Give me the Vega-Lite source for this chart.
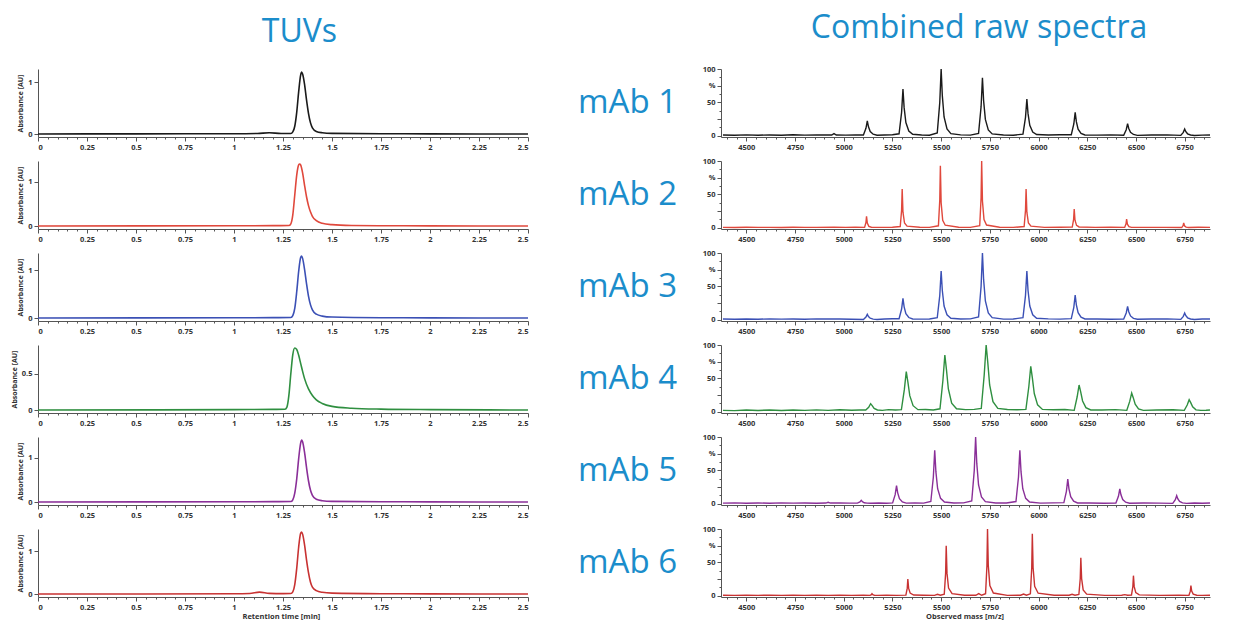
{
"$schema": "https://vega.github.io/schema/vega-lite/v6.json",
"padding": {"left": 10, "top": 12, "right": 5, "bottom": 4},
"background": "white",
"config": {
  "view": {"stroke": null},
  "axis": {"grid": false, "domainColor": "#555", "tickColor": "#555", "labelFont": "Open Sans", "labelFontSize": 7.5, "labelFontWeight": "bold", "labelColor": "#333", "titleFont": "Open Sans", "titleFontSize": 7, "titleFontWeight": "bold", "titleColor": "#333", "labelPadding": 2, "domainWidth": 1},
  "title": {"font": "Open Sans", "color": "#1b8dcb", "fontWeight": "normal", "fontSize": 32}
},
"datasets": {
  "tuv": [
    {"m":"mAb 1","t":0,"a":0},{"m":"mAb 1","t":0.5,"a":0.003},{"m":"mAb 1","t":1,"a":0.005},{"m":"mAb 1","t":1.12,"a":0.01},{"m":"mAb 1","t":1.18,"a":0.025},{"m":"mAb 1","t":1.24,"a":0.01},{"m":"mAb 1","t":1.29,"a":0.01},{"m":"mAb 1","t":1.3,"a":0.04},{"m":"mAb 1","t":1.31,"a":0.15},{"m":"mAb 1","t":1.32,"a":0.42},{"m":"mAb 1","t":1.33,"a":0.82},{"m":"mAb 1","t":1.34,"a":1.14},{"m":"mAb 1","t":1.345,"a":1.2},{"m":"mAb 1","t":1.35,"a":1.16},{"m":"mAb 1","t":1.36,"a":0.96},{"m":"mAb 1","t":1.37,"a":0.66},{"m":"mAb 1","t":1.38,"a":0.4},{"m":"mAb 1","t":1.39,"a":0.22},{"m":"mAb 1","t":1.4,"a":0.12},{"m":"mAb 1","t":1.42,"a":0.05},{"m":"mAb 1","t":1.45,"a":0.025},{"m":"mAb 1","t":1.5,"a":0.012},{"m":"mAb 1","t":1.75,"a":0.005},{"m":"mAb 1","t":2,"a":0.003},{"m":"mAb 1","t":2.5,"a":0},
    {"m":"mAb 2","t":0,"a":0},{"m":"mAb 2","t":1,"a":0.005},{"m":"mAb 2","t":1.2,"a":0.008},{"m":"mAb 2","t":1.28,"a":0.01},{"m":"mAb 2","t":1.29,"a":0.05},{"m":"mAb 2","t":1.3,"a":0.25},{"m":"mAb 2","t":1.31,"a":0.7},{"m":"mAb 2","t":1.32,"a":1.15},{"m":"mAb 2","t":1.33,"a":1.38},{"m":"mAb 2","t":1.335,"a":1.4},{"m":"mAb 2","t":1.34,"a":1.38},{"m":"mAb 2","t":1.35,"a":1.2},{"m":"mAb 2","t":1.36,"a":0.92},{"m":"mAb 2","t":1.37,"a":0.66},{"m":"mAb 2","t":1.38,"a":0.46},{"m":"mAb 2","t":1.39,"a":0.32},{"m":"mAb 2","t":1.4,"a":0.22},{"m":"mAb 2","t":1.42,"a":0.12},{"m":"mAb 2","t":1.45,"a":0.06},{"m":"mAb 2","t":1.5,"a":0.03},{"m":"mAb 2","t":1.6,"a":0.012},{"m":"mAb 2","t":1.75,"a":0.006},{"m":"mAb 2","t":2,"a":0.003},{"m":"mAb 2","t":2.5,"a":0},
    {"m":"mAb 3","t":0,"a":0},{"m":"mAb 3","t":1,"a":0.005},{"m":"mAb 3","t":1.2,"a":0.008},{"m":"mAb 3","t":1.29,"a":0.01},{"m":"mAb 3","t":1.3,"a":0.05},{"m":"mAb 3","t":1.31,"a":0.2},{"m":"mAb 3","t":1.32,"a":0.55},{"m":"mAb 3","t":1.33,"a":0.98},{"m":"mAb 3","t":1.34,"a":1.27},{"m":"mAb 3","t":1.345,"a":1.3},{"m":"mAb 3","t":1.35,"a":1.25},{"m":"mAb 3","t":1.36,"a":1.02},{"m":"mAb 3","t":1.37,"a":0.72},{"m":"mAb 3","t":1.38,"a":0.46},{"m":"mAb 3","t":1.39,"a":0.28},{"m":"mAb 3","t":1.4,"a":0.17},{"m":"mAb 3","t":1.42,"a":0.08},{"m":"mAb 3","t":1.45,"a":0.04},{"m":"mAb 3","t":1.5,"a":0.02},{"m":"mAb 3","t":1.75,"a":0.006},{"m":"mAb 3","t":2,"a":0.003},{"m":"mAb 3","t":2.5,"a":0},
    {"m":"mAb 4","t":0,"a":0},{"m":"mAb 4","t":1,"a":0.005},{"m":"mAb 4","t":1.2,"a":0.008},{"m":"mAb 4","t":1.26,"a":0.01},{"m":"mAb 4","t":1.27,"a":0.04},{"m":"mAb 4","t":1.28,"a":0.2},{"m":"mAb 4","t":1.29,"a":0.5},{"m":"mAb 4","t":1.3,"a":0.76},{"m":"mAb 4","t":1.31,"a":0.85},{"m":"mAb 4","t":1.32,"a":0.83},{"m":"mAb 4","t":1.33,"a":0.75},{"m":"mAb 4","t":1.34,"a":0.64},{"m":"mAb 4","t":1.35,"a":0.53},{"m":"mAb 4","t":1.36,"a":0.43},{"m":"mAb 4","t":1.38,"a":0.29},{"m":"mAb 4","t":1.4,"a":0.2},{"m":"mAb 4","t":1.42,"a":0.14},{"m":"mAb 4","t":1.45,"a":0.09},{"m":"mAb 4","t":1.5,"a":0.05},{"m":"mAb 4","t":1.6,"a":0.025},{"m":"mAb 4","t":1.75,"a":0.012},{"m":"mAb 4","t":2,"a":0.005},{"m":"mAb 4","t":2.5,"a":0},
    {"m":"mAb 5","t":0,"a":0},{"m":"mAb 5","t":1,"a":0.005},{"m":"mAb 5","t":1.2,"a":0.008},{"m":"mAb 5","t":1.29,"a":0.01},{"m":"mAb 5","t":1.3,"a":0.05},{"m":"mAb 5","t":1.31,"a":0.2},{"m":"mAb 5","t":1.32,"a":0.52},{"m":"mAb 5","t":1.33,"a":0.98},{"m":"mAb 5","t":1.34,"a":1.33},{"m":"mAb 5","t":1.345,"a":1.4},{"m":"mAb 5","t":1.35,"a":1.36},{"m":"mAb 5","t":1.36,"a":1.12},{"m":"mAb 5","t":1.37,"a":0.78},{"m":"mAb 5","t":1.38,"a":0.48},{"m":"mAb 5","t":1.39,"a":0.27},{"m":"mAb 5","t":1.4,"a":0.15},{"m":"mAb 5","t":1.42,"a":0.06},{"m":"mAb 5","t":1.45,"a":0.03},{"m":"mAb 5","t":1.5,"a":0.015},{"m":"mAb 5","t":1.75,"a":0.006},{"m":"mAb 5","t":2,"a":0.003},{"m":"mAb 5","t":2.5,"a":0},
    {"m":"mAb 6","t":0,"a":0},{"m":"mAb 6","t":1,"a":0.005},{"m":"mAb 6","t":1.08,"a":0.01},{"m":"mAb 6","t":1.13,"a":0.045},{"m":"mAb 6","t":1.18,"a":0.015},{"m":"mAb 6","t":1.25,"a":0.008},{"m":"mAb 6","t":1.29,"a":0.01},{"m":"mAb 6","t":1.3,"a":0.05},{"m":"mAb 6","t":1.31,"a":0.22},{"m":"mAb 6","t":1.32,"a":0.6},{"m":"mAb 6","t":1.33,"a":1.1},{"m":"mAb 6","t":1.34,"a":1.42},{"m":"mAb 6","t":1.345,"a":1.45},{"m":"mAb 6","t":1.35,"a":1.4},{"m":"mAb 6","t":1.36,"a":1.15},{"m":"mAb 6","t":1.37,"a":0.8},{"m":"mAb 6","t":1.38,"a":0.5},{"m":"mAb 6","t":1.39,"a":0.28},{"m":"mAb 6","t":1.4,"a":0.16},{"m":"mAb 6","t":1.42,"a":0.08},{"m":"mAb 6","t":1.45,"a":0.04},{"m":"mAb 6","t":1.5,"a":0.02},{"m":"mAb 6","t":1.75,"a":0.006},{"m":"mAb 6","t":2,"a":0.003},{"m":"mAb 6","t":2.5,"a":0}
  ],
  "ms": [
    {"m":"mAb 1","mz":4380,"i":1},{"m":"mAb 1","mz":4440,"i":0.6},{"m":"mAb 1","mz":4500,"i":1.2},{"m":"mAb 1","mz":4560,"i":0.7},{"m":"mAb 1","mz":4620,"i":1.1},{"m":"mAb 1","mz":4680,"i":0.6},{"m":"mAb 1","mz":4740,"i":1.3},{"m":"mAb 1","mz":4800,"i":0.8},{"m":"mAb 1","mz":4860,"i":1},{"m":"mAb 1","mz":4910,"i":0.9},{"m":"mAb 1","mz":4938,"i":1},{"m":"mAb 1","mz":4950,"i":3},{"m":"mAb 1","mz":4962,"i":1},{"m":"mAb 1","mz":5010,"i":0.8},{"m":"mAb 1","mz":5060,"i":1.2},
    {"m":"mAb 1","mz":5101,"i":0.9},{"m":"mAb 1","mz":5114,"i":11},{"m":"mAb 1","mz":5121,"i":22},{"m":"mAb 1","mz":5127,"i":13.2},{"m":"mAb 1","mz":5136,"i":6.2},{"m":"mAb 1","mz":5151,"i":2.2},{"m":"mAb 1","mz":5171,"i":0.7},
    {"m":"mAb 1","mz":5210,"i":0.9},{"m":"mAb 1","mz":5250,"i":1.3},
    {"m":"mAb 1","mz":5284,"i":2.8},{"m":"mAb 1","mz":5297,"i":35},{"m":"mAb 1","mz":5304,"i":70},{"m":"mAb 1","mz":5310,"i":42},{"m":"mAb 1","mz":5319,"i":19.6},{"m":"mAb 1","mz":5334,"i":7},{"m":"mAb 1","mz":5354,"i":2.1},
    {"m":"mAb 1","mz":5400,"i":1},{"m":"mAb 1","mz":5440,"i":0.7},
    {"m":"mAb 1","mz":5480,"i":4},{"m":"mAb 1","mz":5493,"i":50},{"m":"mAb 1","mz":5500,"i":100},{"m":"mAb 1","mz":5506,"i":60},{"m":"mAb 1","mz":5515,"i":28},{"m":"mAb 1","mz":5530,"i":10},{"m":"mAb 1","mz":5550,"i":3},
    {"m":"mAb 1","mz":5600,"i":1.2},{"m":"mAb 1","mz":5650,"i":0.8},
    {"m":"mAb 1","mz":5692,"i":3.5},{"m":"mAb 1","mz":5705,"i":43.5},{"m":"mAb 1","mz":5712,"i":87},{"m":"mAb 1","mz":5718,"i":52.2},{"m":"mAb 1","mz":5727,"i":24.4},{"m":"mAb 1","mz":5742,"i":8.7},{"m":"mAb 1","mz":5762,"i":2.6},
    {"m":"mAb 1","mz":5820,"i":1.1},{"m":"mAb 1","mz":5870,"i":0.7},
    {"m":"mAb 1","mz":5920,"i":2.2},{"m":"mAb 1","mz":5933,"i":27.5},{"m":"mAb 1","mz":5940,"i":55},{"m":"mAb 1","mz":5946,"i":33},{"m":"mAb 1","mz":5955,"i":15.4},{"m":"mAb 1","mz":5970,"i":5.5},{"m":"mAb 1","mz":5990,"i":1.7},
    {"m":"mAb 1","mz":6050,"i":1},{"m":"mAb 1","mz":6110,"i":1.3},
    {"m":"mAb 1","mz":6168,"i":1.4},{"m":"mAb 1","mz":6181,"i":17.5},{"m":"mAb 1","mz":6188,"i":35},{"m":"mAb 1","mz":6194,"i":21},{"m":"mAb 1","mz":6203,"i":9.8},{"m":"mAb 1","mz":6218,"i":3.5},{"m":"mAb 1","mz":6238,"i":1.1},
    {"m":"mAb 1","mz":6300,"i":0.8},{"m":"mAb 1","mz":6370,"i":1.2},
    {"m":"mAb 1","mz":6437,"i":0.7},{"m":"mAb 1","mz":6450,"i":9},{"m":"mAb 1","mz":6457,"i":18},{"m":"mAb 1","mz":6463,"i":10.8},{"m":"mAb 1","mz":6472,"i":5},{"m":"mAb 1","mz":6487,"i":1.8},{"m":"mAb 1","mz":6507,"i":0.5},
    {"m":"mAb 1","mz":6580,"i":0.9},{"m":"mAb 1","mz":6660,"i":1.2},
    {"m":"mAb 1","mz":6730,"i":0.4},{"m":"mAb 1","mz":6743,"i":5},{"m":"mAb 1","mz":6750,"i":10},{"m":"mAb 1","mz":6756,"i":6},{"m":"mAb 1","mz":6765,"i":2.8},{"m":"mAb 1","mz":6780,"i":1},{"m":"mAb 1","mz":6800,"i":0.3},
    {"m":"mAb 1","mz":6840,"i":0.8},{"m":"mAb 1","mz":6880,"i":1.1},

    {"m":"mAb 2","mz":4380,"i":0.5},{"m":"mAb 2","mz":4440,"i":0.3},{"m":"mAb 2","mz":4500,"i":0.6},{"m":"mAb 2","mz":4560,"i":0.4},{"m":"mAb 2","mz":4620,"i":0.5},{"m":"mAb 2","mz":4680,"i":0.3},{"m":"mAb 2","mz":4740,"i":0.6},{"m":"mAb 2","mz":4800,"i":0.4},{"m":"mAb 2","mz":4860,"i":0.5},{"m":"mAb 2","mz":4950,"i":0.8},{"m":"mAb 2","mz":5010,"i":0.4},{"m":"mAb 2","mz":5060,"i":0.6},
    {"m":"mAb 2","mz":5107,"i":0.5},{"m":"mAb 2","mz":5114,"i":7.7},{"m":"mAb 2","mz":5117,"i":17},{"m":"mAb 2","mz":5121,"i":6.8},{"m":"mAb 2","mz":5129,"i":2},{"m":"mAb 2","mz":5142,"i":0.7},
    {"m":"mAb 2","mz":5200,"i":0.5},{"m":"mAb 2","mz":5250,"i":0.7},
    {"m":"mAb 2","mz":5290,"i":1.7},{"m":"mAb 2","mz":5297,"i":26.1},{"m":"mAb 2","mz":5300,"i":58},{"m":"mAb 2","mz":5304,"i":23.2},{"m":"mAb 2","mz":5312,"i":7},{"m":"mAb 2","mz":5325,"i":2.3},
    {"m":"mAb 2","mz":5390,"i":0.6},{"m":"mAb 2","mz":5440,"i":0.4},
    {"m":"mAb 2","mz":5486,"i":2.8},{"m":"mAb 2","mz":5493,"i":41.9},{"m":"mAb 2","mz":5496,"i":93},{"m":"mAb 2","mz":5500,"i":37.2},{"m":"mAb 2","mz":5508,"i":11.2},{"m":"mAb 2","mz":5521,"i":3.7},
    {"m":"mAb 2","mz":5590,"i":0.7},{"m":"mAb 2","mz":5650,"i":0.5},
    {"m":"mAb 2","mz":5698,"i":3},{"m":"mAb 2","mz":5705,"i":45},{"m":"mAb 2","mz":5708,"i":100},{"m":"mAb 2","mz":5712,"i":40},{"m":"mAb 2","mz":5720,"i":12},{"m":"mAb 2","mz":5733,"i":4},
    {"m":"mAb 2","mz":5800,"i":0.6},{"m":"mAb 2","mz":5870,"i":0.4},
    {"m":"mAb 2","mz":5926,"i":1.7},{"m":"mAb 2","mz":5933,"i":26.1},{"m":"mAb 2","mz":5936,"i":58},{"m":"mAb 2","mz":5940,"i":23.2},{"m":"mAb 2","mz":5948,"i":7},{"m":"mAb 2","mz":5961,"i":2.3},
    {"m":"mAb 2","mz":6030,"i":0.5},{"m":"mAb 2","mz":6110,"i":0.7},
    {"m":"mAb 2","mz":6173,"i":0.8},{"m":"mAb 2","mz":6180,"i":12.6},{"m":"mAb 2","mz":6183,"i":28},{"m":"mAb 2","mz":6187,"i":11.2},{"m":"mAb 2","mz":6195,"i":3.4},{"m":"mAb 2","mz":6208,"i":1.1},
    {"m":"mAb 2","mz":6290,"i":0.4},{"m":"mAb 2","mz":6370,"i":0.6},
    {"m":"mAb 2","mz":6442,"i":0.4},{"m":"mAb 2","mz":6449,"i":5.9},{"m":"mAb 2","mz":6452,"i":13},{"m":"mAb 2","mz":6456,"i":5.2},{"m":"mAb 2","mz":6464,"i":1.6},{"m":"mAb 2","mz":6477,"i":0.5},
    {"m":"mAb 2","mz":6560,"i":0.5},{"m":"mAb 2","mz":6650,"i":0.4},
    {"m":"mAb 2","mz":6735,"i":0.2},{"m":"mAb 2","mz":6742,"i":3.2},{"m":"mAb 2","mz":6745,"i":7},{"m":"mAb 2","mz":6749,"i":2.8},{"m":"mAb 2","mz":6757,"i":0.8},{"m":"mAb 2","mz":6770,"i":0.3},
    {"m":"mAb 2","mz":6820,"i":0.6},{"m":"mAb 2","mz":6880,"i":0.4},

    {"m":"mAb 3","mz":4380,"i":1},{"m":"mAb 3","mz":4440,"i":0.7},{"m":"mAb 3","mz":4500,"i":1.1},{"m":"mAb 3","mz":4560,"i":0.6},{"m":"mAb 3","mz":4620,"i":1.2},{"m":"mAb 3","mz":4680,"i":0.8},{"m":"mAb 3","mz":4740,"i":1},{"m":"mAb 3","mz":4800,"i":0.6},{"m":"mAb 3","mz":4860,"i":1.2},{"m":"mAb 3","mz":4920,"i":0.9},{"m":"mAb 3","mz":4980,"i":1.1},{"m":"mAb 3","mz":5040,"i":0.7},
    {"m":"mAb 3","mz":5101,"i":0.3},{"m":"mAb 3","mz":5114,"i":4},{"m":"mAb 3","mz":5121,"i":8},{"m":"mAb 3","mz":5127,"i":4.8},{"m":"mAb 3","mz":5136,"i":2.2},{"m":"mAb 3","mz":5151,"i":0.8},{"m":"mAb 3","mz":5171,"i":0.2},
    {"m":"mAb 3","mz":5210,"i":1},{"m":"mAb 3","mz":5250,"i":1.3},
    {"m":"mAb 3","mz":5284,"i":1.3},{"m":"mAb 3","mz":5297,"i":16},{"m":"mAb 3","mz":5304,"i":32},{"m":"mAb 3","mz":5310,"i":19.2},{"m":"mAb 3","mz":5319,"i":9},{"m":"mAb 3","mz":5334,"i":3.2},{"m":"mAb 3","mz":5354,"i":1},
    {"m":"mAb 3","mz":5400,"i":0.8},{"m":"mAb 3","mz":5440,"i":1.1},
    {"m":"mAb 3","mz":5480,"i":2.9},{"m":"mAb 3","mz":5493,"i":36.5},{"m":"mAb 3","mz":5500,"i":73},{"m":"mAb 3","mz":5506,"i":43.8},{"m":"mAb 3","mz":5515,"i":20.4},{"m":"mAb 3","mz":5530,"i":7.3},{"m":"mAb 3","mz":5550,"i":2.2},
    {"m":"mAb 3","mz":5600,"i":0.9},{"m":"mAb 3","mz":5650,"i":1.2},
    {"m":"mAb 3","mz":5692,"i":4},{"m":"mAb 3","mz":5705,"i":50},{"m":"mAb 3","mz":5712,"i":100},{"m":"mAb 3","mz":5718,"i":60},{"m":"mAb 3","mz":5727,"i":28},{"m":"mAb 3","mz":5742,"i":10},{"m":"mAb 3","mz":5762,"i":3},
    {"m":"mAb 3","mz":5820,"i":0.8},{"m":"mAb 3","mz":5870,"i":1.1},
    {"m":"mAb 3","mz":5920,"i":2.9},{"m":"mAb 3","mz":5933,"i":36.5},{"m":"mAb 3","mz":5940,"i":73},{"m":"mAb 3","mz":5946,"i":43.8},{"m":"mAb 3","mz":5955,"i":20.4},{"m":"mAb 3","mz":5970,"i":7.3},{"m":"mAb 3","mz":5990,"i":2.2},
    {"m":"mAb 3","mz":6050,"i":1.2},{"m":"mAb 3","mz":6110,"i":0.8},
    {"m":"mAb 3","mz":6168,"i":1.5},{"m":"mAb 3","mz":6181,"i":18.5},{"m":"mAb 3","mz":6188,"i":37},{"m":"mAb 3","mz":6194,"i":22.2},{"m":"mAb 3","mz":6203,"i":10.4},{"m":"mAb 3","mz":6218,"i":3.7},{"m":"mAb 3","mz":6238,"i":1.1},
    {"m":"mAb 3","mz":6300,"i":1.1},{"m":"mAb 3","mz":6370,"i":0.7},
    {"m":"mAb 3","mz":6437,"i":0.8},{"m":"mAb 3","mz":6450,"i":10},{"m":"mAb 3","mz":6457,"i":20},{"m":"mAb 3","mz":6463,"i":12},{"m":"mAb 3","mz":6472,"i":5.6},{"m":"mAb 3","mz":6487,"i":2},{"m":"mAb 3","mz":6507,"i":0.6},
    {"m":"mAb 3","mz":6580,"i":1},{"m":"mAb 3","mz":6660,"i":1.2},
    {"m":"mAb 3","mz":6730,"i":0.4},{"m":"mAb 3","mz":6743,"i":5},{"m":"mAb 3","mz":6750,"i":10},{"m":"mAb 3","mz":6756,"i":6},{"m":"mAb 3","mz":6765,"i":2.8},{"m":"mAb 3","mz":6780,"i":1},{"m":"mAb 3","mz":6800,"i":0.3},
    {"m":"mAb 3","mz":6840,"i":0.9},{"m":"mAb 3","mz":6880,"i":1.1},

    {"m":"mAb 4","mz":4380,"i":2},{"m":"mAb 4","mz":4440,"i":1.5},{"m":"mAb 4","mz":4500,"i":2.5},{"m":"mAb 4","mz":4560,"i":1.8},{"m":"mAb 4","mz":4620,"i":2.6},{"m":"mAb 4","mz":4680,"i":1.7},{"m":"mAb 4","mz":4740,"i":2.4},{"m":"mAb 4","mz":4800,"i":1.9},{"m":"mAb 4","mz":4860,"i":2.7},{"m":"mAb 4","mz":4920,"i":2},{"m":"mAb 4","mz":4980,"i":2.8},{"m":"mAb 4","mz":5040,"i":2.2},{"m":"mAb 4","mz":5080,"i":2.6},
    {"m":"mAb 4","mz":5113,"i":2.5},{"m":"mAb 4","mz":5128,"i":6.6},{"m":"mAb 4","mz":5138,"i":12},{"m":"mAb 4","mz":5146,"i":9},{"m":"mAb 4","mz":5156,"i":4.8},{"m":"mAb 4","mz":5173,"i":2.5},{"m":"mAb 4","mz":5198,"i":2},
    {"m":"mAb 4","mz":5230,"i":3},{"m":"mAb 4","mz":5265,"i":2.4},
    {"m":"mAb 4","mz":5296,"i":3},{"m":"mAb 4","mz":5311,"i":33},{"m":"mAb 4","mz":5321,"i":60},{"m":"mAb 4","mz":5329,"i":45},{"m":"mAb 4","mz":5339,"i":24},{"m":"mAb 4","mz":5356,"i":9},{"m":"mAb 4","mz":5381,"i":3},
    {"m":"mAb 4","mz":5420,"i":3.2},{"m":"mAb 4","mz":5460,"i":2.6},
    {"m":"mAb 4","mz":5494,"i":4.3},{"m":"mAb 4","mz":5509,"i":46.8},{"m":"mAb 4","mz":5519,"i":85},{"m":"mAb 4","mz":5527,"i":63.8},{"m":"mAb 4","mz":5537,"i":34},{"m":"mAb 4","mz":5554,"i":12.8},{"m":"mAb 4","mz":5579,"i":4.3},
    {"m":"mAb 4","mz":5625,"i":3},{"m":"mAb 4","mz":5670,"i":3.5},
    {"m":"mAb 4","mz":5706,"i":5},{"m":"mAb 4","mz":5721,"i":55},{"m":"mAb 4","mz":5731,"i":100},{"m":"mAb 4","mz":5739,"i":75},{"m":"mAb 4","mz":5749,"i":40},{"m":"mAb 4","mz":5766,"i":15},{"m":"mAb 4","mz":5791,"i":5},
    {"m":"mAb 4","mz":5840,"i":3.2},{"m":"mAb 4","mz":5890,"i":2.8},
    {"m":"mAb 4","mz":5935,"i":3.4},{"m":"mAb 4","mz":5950,"i":37.4},{"m":"mAb 4","mz":5960,"i":68},{"m":"mAb 4","mz":5968,"i":51},{"m":"mAb 4","mz":5978,"i":27.2},{"m":"mAb 4","mz":5995,"i":10.2},{"m":"mAb 4","mz":6020,"i":3.4},
    {"m":"mAb 4","mz":6075,"i":2.9},{"m":"mAb 4","mz":6135,"i":3.3},
    {"m":"mAb 4","mz":6183,"i":2},{"m":"mAb 4","mz":6198,"i":22},{"m":"mAb 4","mz":6208,"i":40},{"m":"mAb 4","mz":6216,"i":30},{"m":"mAb 4","mz":6226,"i":16},{"m":"mAb 4","mz":6243,"i":6},{"m":"mAb 4","mz":6268,"i":2.5},
    {"m":"mAb 4","mz":6325,"i":2.6},{"m":"mAb 4","mz":6395,"i":3},
    {"m":"mAb 4","mz":6453,"i":2},{"m":"mAb 4","mz":6468,"i":15.4},{"m":"mAb 4","mz":6478,"i":28},{"m":"mAb 4","mz":6486,"i":21},{"m":"mAb 4","mz":6496,"i":11.2},{"m":"mAb 4","mz":6513,"i":4.2},{"m":"mAb 4","mz":6538,"i":2},
    {"m":"mAb 4","mz":6605,"i":2.4},{"m":"mAb 4","mz":6690,"i":2.8},
    {"m":"mAb 4","mz":6748,"i":2},{"m":"mAb 4","mz":6763,"i":9.9},{"m":"mAb 4","mz":6773,"i":18},{"m":"mAb 4","mz":6781,"i":13.5},{"m":"mAb 4","mz":6791,"i":7.2},{"m":"mAb 4","mz":6808,"i":2.7},{"m":"mAb 4","mz":6833,"i":2},
    {"m":"mAb 4","mz":6860,"i":2.2},{"m":"mAb 4","mz":6880,"i":2.5},

    {"m":"mAb 5","mz":4380,"i":0.8},{"m":"mAb 5","mz":4440,"i":1.2},{"m":"mAb 5","mz":4500,"i":0.7},{"m":"mAb 5","mz":4560,"i":1.1},{"m":"mAb 5","mz":4620,"i":0.6},{"m":"mAb 5","mz":4680,"i":1.2},{"m":"mAb 5","mz":4740,"i":0.8},{"m":"mAb 5","mz":4800,"i":1},{"m":"mAb 5","mz":4860,"i":0.7},{"m":"mAb 5","mz":4908,"i":0.9},{"m":"mAb 5","mz":4920,"i":2},{"m":"mAb 5","mz":4932,"i":0.9},{"m":"mAb 5","mz":4980,"i":1.1},{"m":"mAb 5","mz":5030,"i":0.8},
    {"m":"mAb 5","mz":5070,"i":0.8},{"m":"mAb 5","mz":5083,"i":2.5},{"m":"mAb 5","mz":5090,"i":5},{"m":"mAb 5","mz":5096,"i":3},{"m":"mAb 5","mz":5105,"i":1.4},{"m":"mAb 5","mz":5120,"i":0.8},{"m":"mAb 5","mz":5140,"i":0.6},
    {"m":"mAb 5","mz":5180,"i":1},{"m":"mAb 5","mz":5220,"i":0.7},
    {"m":"mAb 5","mz":5251,"i":1.1},{"m":"mAb 5","mz":5264,"i":13.5},{"m":"mAb 5","mz":5271,"i":27},{"m":"mAb 5","mz":5277,"i":16.2},{"m":"mAb 5","mz":5286,"i":7.6},{"m":"mAb 5","mz":5301,"i":2.7},{"m":"mAb 5","mz":5321,"i":0.8},
    {"m":"mAb 5","mz":5365,"i":1.1},{"m":"mAb 5","mz":5410,"i":0.8},
    {"m":"mAb 5","mz":5447,"i":3.2},{"m":"mAb 5","mz":5460,"i":40},{"m":"mAb 5","mz":5467,"i":80},{"m":"mAb 5","mz":5473,"i":48},{"m":"mAb 5","mz":5482,"i":22.4},{"m":"mAb 5","mz":5497,"i":8},{"m":"mAb 5","mz":5517,"i":2.4},
    {"m":"mAb 5","mz":5565,"i":1},{"m":"mAb 5","mz":5615,"i":1.2},
    {"m":"mAb 5","mz":5657,"i":4},{"m":"mAb 5","mz":5670,"i":50},{"m":"mAb 5","mz":5677,"i":100},{"m":"mAb 5","mz":5683,"i":60},{"m":"mAb 5","mz":5692,"i":28},{"m":"mAb 5","mz":5707,"i":10},{"m":"mAb 5","mz":5727,"i":3},
    {"m":"mAb 5","mz":5780,"i":0.9},{"m":"mAb 5","mz":5835,"i":1.1},
    {"m":"mAb 5","mz":5884,"i":3.2},{"m":"mAb 5","mz":5897,"i":40},{"m":"mAb 5","mz":5904,"i":80},{"m":"mAb 5","mz":5910,"i":48},{"m":"mAb 5","mz":5919,"i":22.4},{"m":"mAb 5","mz":5934,"i":8},{"m":"mAb 5","mz":5954,"i":2.4},
    {"m":"mAb 5","mz":6010,"i":0.8},{"m":"mAb 5","mz":6075,"i":1.2},
    {"m":"mAb 5","mz":6130,"i":1.5},{"m":"mAb 5","mz":6143,"i":18.5},{"m":"mAb 5","mz":6150,"i":37},{"m":"mAb 5","mz":6156,"i":22.2},{"m":"mAb 5","mz":6165,"i":10.4},{"m":"mAb 5","mz":6180,"i":3.7},{"m":"mAb 5","mz":6200,"i":1.1},
    {"m":"mAb 5","mz":6260,"i":1},{"m":"mAb 5","mz":6335,"i":0.7},
    {"m":"mAb 5","mz":6397,"i":0.9},{"m":"mAb 5","mz":6410,"i":11},{"m":"mAb 5","mz":6417,"i":22},{"m":"mAb 5","mz":6423,"i":13.2},{"m":"mAb 5","mz":6432,"i":6.2},{"m":"mAb 5","mz":6447,"i":2.2},{"m":"mAb 5","mz":6467,"i":0.7},
    {"m":"mAb 5","mz":6540,"i":1.1},{"m":"mAb 5","mz":6620,"i":0.8},
    {"m":"mAb 5","mz":6689,"i":0.5},{"m":"mAb 5","mz":6702,"i":6},{"m":"mAb 5","mz":6709,"i":12},{"m":"mAb 5","mz":6715,"i":7.2},{"m":"mAb 5","mz":6724,"i":3.4},{"m":"mAb 5","mz":6739,"i":1.2},{"m":"mAb 5","mz":6759,"i":0.4},
    {"m":"mAb 5","mz":6800,"i":1},{"m":"mAb 5","mz":6840,"i":0.7},{"m":"mAb 5","mz":6880,"i":1},

    {"m":"mAb 6","mz":4380,"i":0.6},{"m":"mAb 6","mz":4440,"i":0.4},{"m":"mAb 6","mz":4500,"i":0.7},{"m":"mAb 6","mz":4560,"i":0.5},{"m":"mAb 6","mz":4620,"i":0.6},{"m":"mAb 6","mz":4680,"i":0.4},{"m":"mAb 6","mz":4740,"i":0.7},{"m":"mAb 6","mz":4800,"i":0.5},{"m":"mAb 6","mz":4860,"i":0.6},{"m":"mAb 6","mz":4920,"i":0.5},{"m":"mAb 6","mz":4980,"i":0.7},{"m":"mAb 6","mz":5040,"i":0.5},{"m":"mAb 6","mz":5100,"i":0.6},
    {"m":"mAb 6","mz":5135,"i":0.5},{"m":"mAb 6","mz":5142,"i":1.6},{"m":"mAb 6","mz":5145,"i":3},{"m":"mAb 6","mz":5149,"i":1.4},{"m":"mAb 6","mz":5157,"i":0.7},{"m":"mAb 6","mz":5175,"i":0.5},
    {"m":"mAb 6","mz":5220,"i":0.7},{"m":"mAb 6","mz":5270,"i":0.5},
    {"m":"mAb 6","mz":5319,"i":0.8},{"m":"mAb 6","mz":5326,"i":11.3},{"m":"mAb 6","mz":5329,"i":25},{"m":"mAb 6","mz":5333,"i":11.3},{"m":"mAb 6","mz":5341,"i":3.8},{"m":"mAb 6","mz":5359,"i":1},
    {"m":"mAb 6","mz":5410,"i":0.6},{"m":"mAb 6","mz":5466,"i":0.5},{"m":"mAb 6","mz":5481,"i":2},{"m":"mAb 6","mz":5496,"i":0.6},
    {"m":"mAb 6","mz":5516,"i":2.3},{"m":"mAb 6","mz":5523,"i":33.8},{"m":"mAb 6","mz":5526,"i":75},{"m":"mAb 6","mz":5530,"i":33.8},{"m":"mAb 6","mz":5538,"i":11.3},{"m":"mAb 6","mz":5556,"i":3},
    {"m":"mAb 6","mz":5620,"i":0.7},{"m":"mAb 6","mz":5678,"i":0.6},{"m":"mAb 6","mz":5693,"i":3},{"m":"mAb 6","mz":5708,"i":0.6},
    {"m":"mAb 6","mz":5728,"i":3},{"m":"mAb 6","mz":5735,"i":45},{"m":"mAb 6","mz":5738,"i":100},{"m":"mAb 6","mz":5742,"i":45},{"m":"mAb 6","mz":5750,"i":15},{"m":"mAb 6","mz":5768,"i":4},
    {"m":"mAb 6","mz":5840,"i":0.5},{"m":"mAb 6","mz":5908,"i":0.6},{"m":"mAb 6","mz":5923,"i":2.5},{"m":"mAb 6","mz":5938,"i":0.6},
    {"m":"mAb 6","mz":5958,"i":2.8},{"m":"mAb 6","mz":5965,"i":41.9},{"m":"mAb 6","mz":5968,"i":93},{"m":"mAb 6","mz":5972,"i":41.9},{"m":"mAb 6","mz":5980,"i":14},{"m":"mAb 6","mz":5998,"i":3.7},
    {"m":"mAb 6","mz":6080,"i":0.7},{"m":"mAb 6","mz":6157,"i":0.6},{"m":"mAb 6","mz":6172,"i":2},{"m":"mAb 6","mz":6187,"i":0.6},
    {"m":"mAb 6","mz":6207,"i":1.7},{"m":"mAb 6","mz":6214,"i":25.7},{"m":"mAb 6","mz":6217,"i":57},{"m":"mAb 6","mz":6221,"i":25.7},{"m":"mAb 6","mz":6229,"i":8.6},{"m":"mAb 6","mz":6247,"i":2.3},
    {"m":"mAb 6","mz":6340,"i":0.5},{"m":"mAb 6","mz":6427,"i":0.6},{"m":"mAb 6","mz":6442,"i":1.5},{"m":"mAb 6","mz":6457,"i":0.6},
    {"m":"mAb 6","mz":6477,"i":0.9},{"m":"mAb 6","mz":6484,"i":13.5},{"m":"mAb 6","mz":6487,"i":30},{"m":"mAb 6","mz":6491,"i":13.5},{"m":"mAb 6","mz":6499,"i":4.5},{"m":"mAb 6","mz":6517,"i":1.2},
    {"m":"mAb 6","mz":6620,"i":0.5},{"m":"mAb 6","mz":6720,"i":0.6},
    {"m":"mAb 6","mz":6772,"i":0.5},{"m":"mAb 6","mz":6779,"i":6.8},{"m":"mAb 6","mz":6782,"i":15},{"m":"mAb 6","mz":6786,"i":6.8},{"m":"mAb 6","mz":6794,"i":2.3},{"m":"mAb 6","mz":6812,"i":0.6},
    {"m":"mAb 6","mz":6840,"i":0.5},{"m":"mAb 6","mz":6880,"i":0.7}
  ]
},
"hconcat": [
  {
    "title": {"text": "TUVs", "anchor": "middle", "offset": 20, "dx": 30},
    "vconcat": [
      {
        "data": {"name": "tuv"},
        "title": {"text": "Retention time [min]", "orient": "bottom", "font": "Open Sans", "fontSize": 7.5, "fontWeight": "bold", "color": "#333", "offset": 2, "anchor": "middle", "dx": 12},
        "facet": {"row": {"field": "m", "type": "nominal", "header": {"title": null, "labels": false}}},
        "spacing": {"row": 10},
        "resolve": {"scale": {"y": "independent"}, "axis": {"x": "independent"}},
        "spec": {
          "width": 490,
          "height": 68,
          "mark": {"type": "line", "strokeWidth": 1.6, "interpolate": "monotone", "clip": true},
          "encoding": {
            "x": {"field": "t", "type": "quantitative", "scale": {"domain": [0, 2.5], "nice": false},
              "axis": {"title": null, "values": [0,0.05,0.1,0.15,0.2,0.25,0.3,0.35,0.4,0.45,0.5,0.55,0.6,0.65,0.7,0.75,0.8,0.85,0.9,0.95,1,1.05,1.1,1.15,1.2,1.25,1.3,1.35,1.4,1.45,1.5,1.55,1.6,1.65,1.7,1.75,1.8,1.85,1.9,1.95,2,2.05,2.1,2.15,2.2,2.25,2.3,2.35,2.4,2.45,2.5],
                "format": ".2~f", "labelOverlap": false,
                "labelExpr": "round(datum.value*100) % 25 == 0 ? datum.label : ''",
                "tickSize": {"condition": {"test": "round(datum.value*100) % 25 == 0", "value": 4}, "value": 2}}},
            "y": {"field": "a", "type": "quantitative", "scale": {"zero": true, "nice": false, "padding": 3},
              "axis": {"title": "Absorbance [AU]", "tickCount": 1.5, "format": ".1~f", "tickSize": 4, "titlePadding": 4}},
            "color": {"field": "m", "type": "nominal", "legend": null,
              "scale": {"domain": ["mAb 1","mAb 2","mAb 3","mAb 4","mAb 5","mAb 6"], "range": ["#1a1a1a","#e0483c","#3b50b5","#2f8f40","#8a2f98","#c83232"]}}
          }
        }
      }
    ]
  },
  {
    "title": {"text": "Combined raw spectra", "anchor": "middle", "offset": 20, "dx": 85},
    "vconcat": [
      {
        "data": {"name": "ms"},
        "title": {"text": "Observed mass [m/z]", "orient": "bottom", "font": "Open Sans", "fontSize": 7.5, "fontWeight": "bold", "color": "#333", "offset": 2, "anchor": "middle", "dx": 71},
        "facet": {"row": {"field": "m", "type": "nominal", "header": {"title": null, "labelOrient": "left", "labelAngle": 0, "labelAlign": "right", "labelBaseline": "middle", "labelFont": "Open Sans", "labelFontSize": 33, "labelColor": "#1b8dcb", "labelPadding": -74}}},
        "spacing": {"row": 10},
        "resolve": {"axis": {"x": "independent"}},
        "spec": {
          "width": 489,
          "height": 68,
          "mark": {"type": "line", "strokeWidth": 1.4, "clip": true},
          "encoding": {
            "x": {"field": "mz", "type": "quantitative", "scale": {"domain": [4370, 6880], "nice": false, "zero": false},
              "axis": {"title": null, "values": [4400,4450,4500,4550,4600,4650,4700,4750,4800,4850,4900,4950,5000,5050,5100,5150,5200,5250,5300,5350,5400,5450,5500,5550,5600,5650,5700,5750,5800,5850,5900,5950,6000,6050,6100,6150,6200,6250,6300,6350,6400,6450,6500,6550,6600,6650,6700,6750,6800,6850],
                "format": "d", "labelOverlap": false,
                "labelExpr": "datum.value % 250 == 0 ? datum.label : ''",
                "tickSize": {"condition": {"test": "datum.value % 250 == 0", "value": 4}, "value": 2}}},
            "y": {"field": "i", "type": "quantitative", "scale": {"domain": [-2, 100], "nice": false},
              "axis": {"title": null, "values": [0,12.5,25,37.5,50,62.5,75,87.5,100], "labelOverlap": false,
                "labelExpr": "datum.value == 75 ? '%' : (datum.value % 50 == 0 ? datum.label : '')",
                "tickSize": {"condition": {"test": "datum.value % 25 == 0", "value": 4}, "value": 2}}},
            "color": {"field": "m", "type": "nominal", "legend": null,
              "scale": {"domain": ["mAb 1","mAb 2","mAb 3","mAb 4","mAb 5","mAb 6"], "range": ["#111111","#e22b25","#3446a8","#1e8a34","#8b1f93","#b8262a"]}}
          }
        }
      }
    ]
  }
],
"spacing": 49
}
